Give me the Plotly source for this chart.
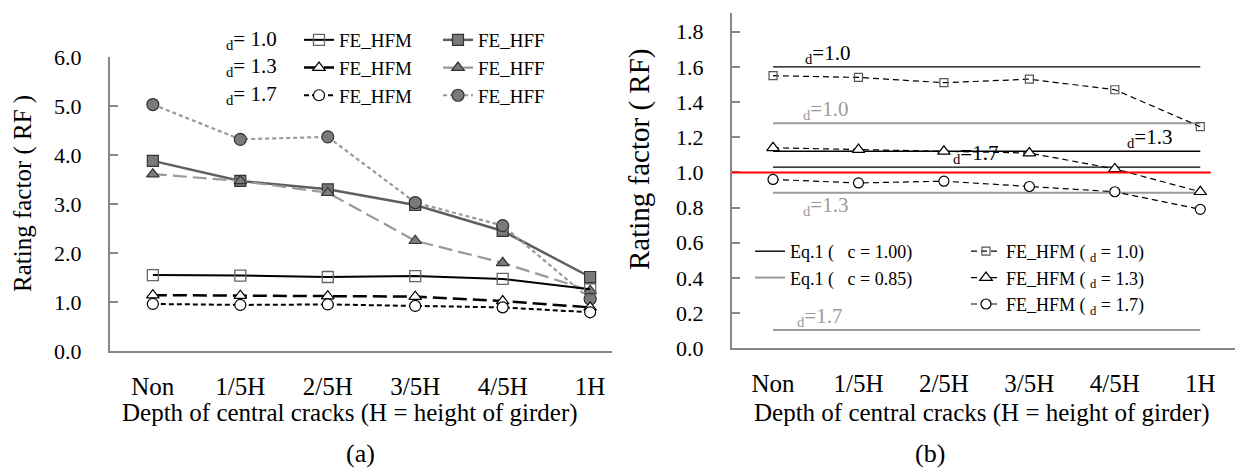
import plotly.graph_objects as go

# ---------------- data ----------------
categories = ["Non", "1/5H", "2/5H", "3/5H", "4/5H", "1H"]

# Panel (a): FE results
hfm_d10 = [1.55, 1.54, 1.51, 1.53, 1.47, 1.26]
hfm_d13 = [1.14, 1.13, 1.12, 1.11, 1.02, 0.89]
hfm_d17 = [0.96, 0.94, 0.95, 0.92, 0.89, 0.79]
hff_d10 = [3.88, 3.47, 3.30, 2.98, 2.45, 1.51]
hff_d13 = [3.61, 3.47, 3.23, 2.25, 1.80, 1.23]
hff_d17 = [5.03, 4.32, 4.37, 3.03, 2.56, 1.06]

# Panel (b): Eq.1 rating factors for gamma_d = 1.0, 1.3, 1.7
gamma_d = ["1.0", "1.3", "1.7"]
eq1_phi100 = [1.60, 1.12, 1.03]
eq1_phi085 = [1.28, 0.885, 0.104]
rf_threshold = 1.0

a_yticks = [0, 1, 2, 3, 4, 5, 6]
b_yticks = [0.0, 0.2, 0.4, 0.6, 0.8, 1.0, 1.2, 1.4, 1.6, 1.8]

# ---------------- styling ----------------
# the page body has an 8 px margin, so the figure is 8 px smaller than the window
OFF = 8
WIN_W, WIN_H = 1243, 471
W, H = WIN_W - OFF, WIN_H - OFF
SERIF = "Liberation Serif"
AXC = "#878787"
GRAY_D = "#5f5f5f"
GRAY_L = "#9a9a9a"
FILL = "#7a7a7a"

def px_x(p):
    return (p - OFF) / W

def px_y(p):
    return (WIN_H - p) / H

fig = go.Figure()

# ---- Panel (a) ----
a_series = [
    (hfm_d10, "FE_HFM", "legend", dict(color="black", width=2, dash="solid"),
     dict(symbol="square-open", size=11, color="#666666", line=dict(width=1.3))),
    (hfm_d13, "FE_HFM", "legend", dict(color="black", width=2.5, dash="14px,6px"),
     dict(symbol="triangle-up", size=11, color="white", line=dict(color="black", width=1.2))),
    (hfm_d17, "FE_HFM", "legend", dict(color="black", width=2, dash="5px,3px"),
     dict(symbol="circle", size=11, color="white", line=dict(color="black", width=1.2))),
    (hff_d10, "FE_HFF", "legend2", dict(color=GRAY_D, width=2.5, dash="solid"),
     dict(symbol="square", size=11, color=FILL, line=dict(color="#333333", width=1.2))),
    (hff_d13, "FE_HFF", "legend2", dict(color=GRAY_L, width=2.2, dash="14px,6px"),
     dict(symbol="triangle-up", size=11, color=FILL, line=dict(color="#333333", width=1.2))),
    (hff_d17, "FE_HFF", "legend2", dict(color=GRAY_L, width=2.2, dash="4px,3px"),
     dict(symbol="circle", size=12, color=FILL, line=dict(color="#333333", width=1.2))),
]
# draw order: HFF behind HFM
for ys, name, leg, ln, mk in a_series[3:] + a_series[:3]:
    fig.add_trace(go.Scatter(x=categories, y=ys, mode="lines+markers", name=name,
                             line=ln, marker=mk, legend=leg, xaxis="x", yaxis="y",
                             cliponaxis=False))

# ---- Panel (b) ----
for i, v in enumerate(eq1_phi100):
    fig.add_trace(go.Scatter(x=[categories[0], categories[-1]], y=[v, v], mode="lines",
                             line=dict(color="black", width=1.4),
                             name="Eq.1 (\u00a0\u00a0\u00a0c = 1.00)", legend="legend3",
                             legendgroup="phi100", showlegend=(i == 0),
                             xaxis="x2", yaxis="y2"))
for i, v in enumerate(eq1_phi085):
    fig.add_trace(go.Scatter(x=[categories[0], categories[-1]], y=[v, v], mode="lines",
                             line=dict(color=GRAY_L, width=2),
                             name="Eq.1 (\u00a0\u00a0\u00a0c = 0.85)", legend="legend3",
                             legendgroup="phi085", showlegend=(i == 0),
                             xaxis="x2", yaxis="y2"))

b_series = [
    (hfm_d10, "1.0", dict(symbol="square-open", size=8, color="#555555", line=dict(width=1.2))),
    (hfm_d13, "1.3", dict(symbol="triangle-up", size=11, color="white", line=dict(color="black", width=1.2))),
    (hfm_d17, "1.7", dict(symbol="circle", size=10, color="white", line=dict(color="black", width=1.2))),
]
for ys, g, mk in b_series:
    fig.add_trace(go.Scatter(x=categories, y=ys, mode="lines+markers",
                             name="FE_HFM ( <sub>d</sub> = %s)" % g,
                             line=dict(color="black", width=1.2, dash="6px,4px"),
                             marker=mk, legend="legend4", xaxis="x2", yaxis="y2",
                             cliponaxis=False))

# red threshold line at RF = 1.0
fig.add_shape(type="line", xref="x2 domain", yref="y2", x0=0, x1=0.937,
              y0=rf_threshold, y1=rf_threshold, line=dict(color="#ff0000", width=2))

# ---------------- axes ----------------
tickfont_x = dict(family=SERIF, size=25, color="black")
common_x = dict(type="category", categoryorder="array", categoryarray=categories,
                showline=True, linecolor=AXC, linewidth=2, ticks="", showgrid=False,
                zeroline=False, tickfont=tickfont_x, ticklabelstandoff=12, automargin=False)
common_y = dict(showline=True, linecolor=AXC, linewidth=2, ticks="inside", ticklen=8,
                tickcolor=AXC, tickwidth=1.5, showgrid=False, zeroline=False,
                tickformat=".1f", ticklabelstandoff=22, automargin=False)

fig.update_layout(
    xaxis=dict(domain=[px_x(110), px_x(612)], range=[-0.49, 5.25], anchor="y", **common_x),
    yaxis=dict(domain=[px_y(351), px_y(57)], range=[0, 6], tickvals=a_yticks, anchor="x",
               tickfont=dict(family=SERIF, size=22, color="black"), **common_y),
    xaxis2=dict(domain=[px_x(732), 1.0], range=[-0.48, 5.5], anchor="y2", **common_x),
    yaxis2=dict(domain=[px_y(348.3), px_y(12.7)], range=[0, 1.908], tickvals=b_yticks,
                anchor="x2", tickfont=dict(family=SERIF, size=22, color="black"), **common_y),
)

leg_font = dict(family=SERIF, size=19, color="black")
leg_font_b = dict(family=SERIF, size=18, color="black")
fig.update_layout(
    legend=dict(x=px_x(299), y=px_y(21), xanchor="left", yanchor="top", font=leg_font,
                bgcolor="rgba(0,0,0,0)", tracegroupgap=0),
    legend2=dict(x=px_x(438), y=px_y(21), xanchor="left", yanchor="top", font=leg_font,
                 bgcolor="rgba(0,0,0,0)", tracegroupgap=0),
    legend3=dict(x=px_x(750), y=px_y(233), xanchor="left", yanchor="top", font=leg_font_b,
                 bgcolor="rgba(0,0,0,0)", tracegroupgap=0),
    legend4=dict(x=px_x(966), y=px_y(233), xanchor="left", yanchor="top", font=leg_font_b,
                 bgcolor="rgba(0,0,0,0)", tracegroupgap=0),
)

annotations = []
# legend row labels for panel (a)
for k, g in enumerate(gamma_d):
    annotations.append(dict(text="<sub>d</sub>= %s" % g, xref="paper", yref="paper",
                            x=px_x(279), y=px_y(39.5 + 27.5 * k), xanchor="right",
                            yanchor="middle", showarrow=False,
                            font=dict(family=SERIF, size=21, color="black")))
# Eq.1 line labels in panel (b)
b_label_x = [0.64, 4.41, 2.37]
b_label_x_g = [0.61, 0.61, 0.54]
for k, g in enumerate(gamma_d):
    annotations.append(dict(text="<sub>d</sub>=%s" % g, xref="x2", yref="y2",
                            x=b_label_x[k], y=eq1_phi100[k], xanchor="center",
                            yanchor="bottom", yshift=-2, showarrow=False,
                            font=dict(family=SERIF, size=21, color="black")))
    below = (k == 1)
    annotations.append(dict(text="<sub>d</sub>=%s" % g, xref="x2", yref="y2",
                            x=b_label_x_g[k], y=eq1_phi085[k], xanchor="center",
                            yanchor="top" if below else "bottom",
                            yshift=2 if below else -2, showarrow=False,
                            font=dict(family=SERIF, size=21, color=GRAY_L)))
# axis titles & panel labels
def label(text, x, y, size, angle=0):
    return dict(text=text, xref="paper", yref="paper", x=px_x(x), y=px_y(y),
                xanchor="center", yanchor="middle", textangle=angle, showarrow=False,
                font=dict(family=SERIF, size=size, color="black"))

annotations += [
    label("Rating factor ( RF )", 23, 194, 25, -90),
    label("Rating factor ( RF)", 639, 160, 29, -90),
    label("Depth of central cracks (H = height of girder)", 350, 413, 25),
    label("Depth of central cracks (H = height of girder)", 982, 413, 25),
    label("(a)", 360, 453, 26),
    label("(b)", 930, 453, 26),
]

fig.update_layout(width=W, height=H, margin=dict(l=0, r=0, t=0, b=0, autoexpand=False),
                  paper_bgcolor="white", plot_bgcolor="white",
                  annotations=annotations, font=dict(family=SERIF, color="black"))

fig.write_html("out.html")
